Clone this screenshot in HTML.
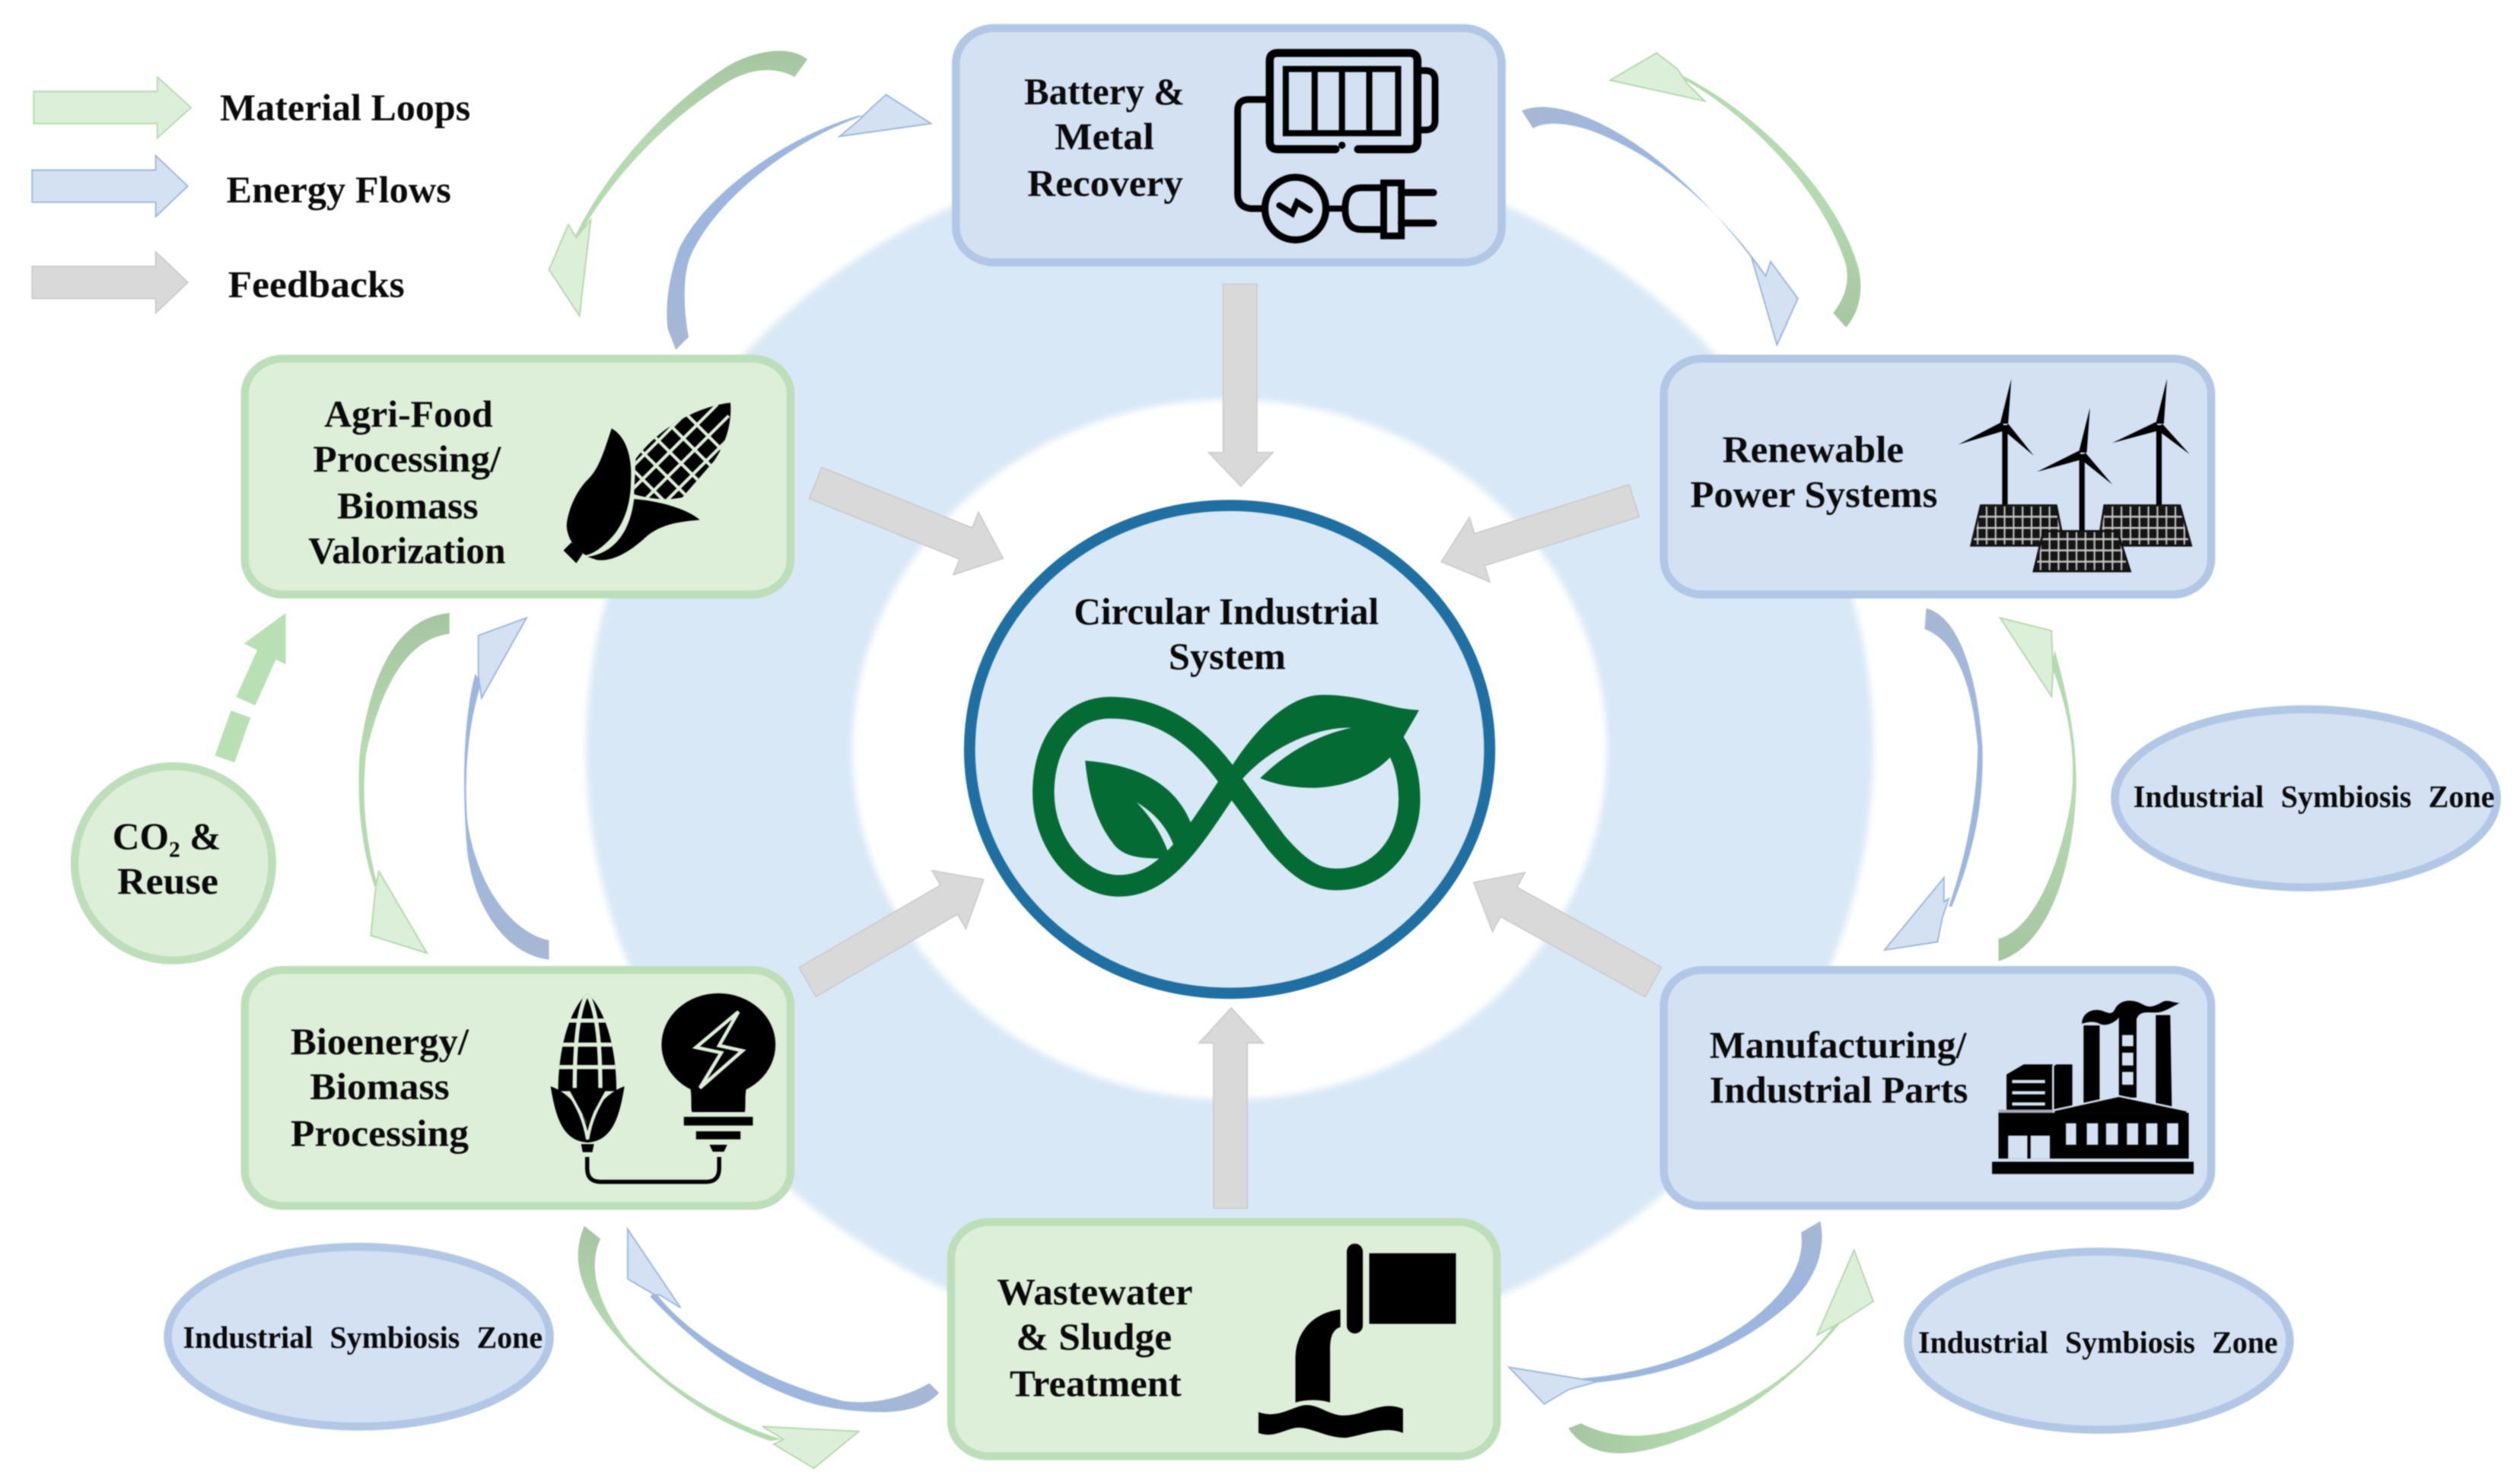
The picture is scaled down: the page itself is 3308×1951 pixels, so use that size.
<!DOCTYPE html>
<html lang="en"><head><meta charset="utf-8"><title>Circular Industrial System</title>
<style>
html,body{margin:0;padding:0;background:#fff}
svg{display:block;filter:blur(.8px)}
text{font-family:"Liberation Serif",serif;font-weight:700;fill:#0a0a0a;font-size:23.5px}
.z{font-size:19.5px;word-spacing:6px}
.gh{fill:#dcefd8;stroke:#b3d8ab;stroke-width:.9}
.bh{fill:#d3e1f3;stroke:#9db6dd;stroke-width:.9}
.fb{fill:#d9d9d9;stroke:#cbcbcb;stroke-width:.8}
.bb{fill:#d3e1f3;stroke:#b1c7e5;stroke-width:5}
.gb{fill:#deefd9;stroke:#bcdfba;stroke-width:5}
</style></head><body>
<svg width="3308" height="1951" viewBox="0 0 1568 924.8" xmlns="http://www.w3.org/2000/svg">
<defs>
<filter id="bl" x="-5%" y="-5%" width="110%" height="110%"><feGaussianBlur stdDeviation="2"/></filter>
<linearGradient id="gT" x1="0" y1="0" x2="0" y2="1"><stop offset="0" stop-color="#a5c5a0"/><stop offset=".5" stop-color="#b5dab0"/></linearGradient>
<linearGradient id="gB" x1="0" y1="1" x2="0" y2="0"><stop offset="0" stop-color="#a5c5a0"/><stop offset=".5" stop-color="#b5dab0"/></linearGradient>
<linearGradient id="gL" x1="0" y1="0" x2="1" y2="0"><stop offset="0" stop-color="#a5c5a0"/><stop offset=".5" stop-color="#b5dab0"/></linearGradient>
<linearGradient id="bT" x1="0" y1="0" x2="0" y2="1"><stop offset="0" stop-color="#a7b7d5"/><stop offset=".5" stop-color="#9cb6de"/></linearGradient>
<linearGradient id="bB" x1="0" y1="1" x2="0" y2="0"><stop offset="0" stop-color="#a7b7d5"/><stop offset=".5" stop-color="#9cb6de"/></linearGradient>
<linearGradient id="bR" x1="1" y1="0" x2="0" y2="0"><stop offset="0" stop-color="#a7b7d5"/><stop offset=".5" stop-color="#9cb6de"/></linearGradient>
<linearGradient id="bL" x1="0" y1="0" x2="1" y2="0"><stop offset="0" stop-color="#a7b7d5"/><stop offset=".5" stop-color="#9cb6de"/></linearGradient>
<pattern id="sol" patternUnits="userSpaceOnUse" width="5.6" height="7"><rect width="5.6" height="7" fill="#c8c8c8"/><rect x=".5" y=".6" width="4.6" height="5.8" fill="#151515"/></pattern>
<clipPath id="cob"><path d="M396,286 C408,270 430,254 455,251 C456,262 453,275 445,287 L425,310 C415,312 405,311 395,308 Z"/></clipPath>
<clipPath id="cob2"><path d="M365.8,619 C378,630 384,655 384,680 L347.7,680 C347.7,655 354,630 365.8,619 Z"/></clipPath>
</defs>

<rect width="1568" height="925" fill="#fff"/>
<ellipse cx="766" cy="467" rx="401" ry="375" fill="#d9e8f6" filter="url(#bl)"/>
<ellipse cx="766" cy="467" rx="235" ry="218" fill="#fff" filter="url(#bl)"/>

<!-- legend arrows -->
<polygon points="21,57 98,57 98,48 119,67 98,86 98,77 21,77" fill="#dcefd8" stroke="#b6dab0" stroke-width=".9"/>
<polygon points="20,106 97,106 97,97 117,116 97,135 97,126 20,126" fill="#d3e1f3" stroke="#9fb6dc" stroke-width=".9"/>
<polygon points="20,166 97,166 97,157 117,176 97,195 97,186 20,186" fill="#d9d9d9" stroke="#cbcbcb" stroke-width=".9"/>
<text x="137" y="75" textLength="156" lengthAdjust="spacingAndGlyphs">Material Loops</text>
<text x="141" y="126" textLength="140" lengthAdjust="spacingAndGlyphs">Energy Flows</text>
<text x="142" y="185" textLength="110" lengthAdjust="spacingAndGlyphs">Feedbacks</text>

<!-- grey feedback arrows -->
<polygon class="fb" points="762,177 783,177 783,282 793,282 773,303 753,282 762,282"/>
<polygon class="fb" points="756,753 777,753 777,650 787,650 767,628 747,650 756,650"/>
<polygon class="fb" transform="translate(508,301) rotate(21.9)" points="0,-10.5 101,-10.5 101,-21 126,0 101,21 101,10.5 0,10.5"/>
<polygon class="fb" transform="translate(1018,312) rotate(162.4)" points="0,-10.5 101,-10.5 101,-21 126,0 101,21 101,10.5 0,10.5"/>
<polygon class="fb" transform="translate(503,612) rotate(-30.2)" points="0,-10.5 102,-10.5 102,-21 127,0 102,21 102,10.5 0,10.5"/>
<polygon class="fb" transform="translate(1030,612) rotate(209)" points="0,-10.5 103,-10.5 103,-21 128,0 103,21 103,10.5 0,10.5"/>

<!-- centre -->
<ellipse cx="766" cy="467" rx="162" ry="152" fill="#d9e8f6" stroke="#1f6fa3" stroke-width="7"/>
<text x="669" y="389" textLength="190" lengthAdjust="spacingAndGlyphs">Circular Industrial</text>
<text x="728" y="417" textLength="73" lengthAdjust="spacingAndGlyphs">System</text>
<g fill="none" stroke="#046b35" stroke-width="13.5">
<path d="M767,487 C745,455 720,441 692,441 C665,441 650,465 650,494 C650,525 672,552 697,552 C725,552 742,525 767,487"/>
<path d="M767,487 L795,525 C812,545 822,548 833,548 C860,548 878,525 878,498 C878,485 875,472 868,462"/>
</g>
<path fill="#046b35" d="M767,478 C785,450 805,433 824,433 C850,433 865,442 884,442.5 C880,450 876,456 873,462 C865,478 845,490 819,491 C805,491 795,489 785,485 C800,470 820,458 842,453.5 C820,453 790,465 770,490 Z"/>
<path fill="#046b35" d="M676,474 C700,476 725,483 738,505 C742,512 745,520 744,524 L733,533 C730,520 722,508 708,500 C718,510 725,522 729,535 C712,535 700,535 693,525 C683,512 678,495 676,474 Z"/>

<!-- boxes -->
<rect class="bb" x="595.5" y="17.5" width="340" height="146" rx="24" ry="22"/>
<rect class="bb" x="1036.5" y="223.5" width="341" height="147" rx="24" ry="22"/>
<rect class="bb" x="1036.5" y="604.5" width="341" height="147" rx="24" ry="22"/>
<rect class="gb" x="592.5" y="761.5" width="340" height="146" rx="24" ry="22"/>
<rect class="gb" x="152.5" y="604.5" width="340" height="147" rx="24" ry="22"/>
<rect class="gb" x="152.5" y="223.5" width="340" height="147" rx="24" ry="22"/>

<!-- ellipses -->
<ellipse class="bb" cx="1436.5" cy="497.5" rx="119" ry="55.5"/>
<ellipse class="bb" cx="223.5" cy="833" rx="119" ry="56"/>
<ellipse class="bb" cx="1307.5" cy="835.5" rx="119" ry="55.5"/>
<ellipse class="gb" cx="108" cy="538" rx="61.5" ry="60.5"/>

<!-- box labels -->
<text x="638" y="65" textLength="100" lengthAdjust="spacingAndGlyphs">Battery &amp;</text>
<text x="657" y="93" textLength="62" lengthAdjust="spacingAndGlyphs">Metal</text>
<text x="640" y="122" textLength="97" lengthAdjust="spacingAndGlyphs">Recovery</text>
<text x="1073" y="288" textLength="113" lengthAdjust="spacingAndGlyphs">Renewable</text>
<text x="1053" y="316" textLength="154" lengthAdjust="spacingAndGlyphs">Power Systems</text>
<text x="202" y="266" textLength="105" lengthAdjust="spacingAndGlyphs">Agri-Food</text>
<text x="195" y="294" textLength="117" lengthAdjust="spacingAndGlyphs">Processing/</text>
<text x="210" y="323" textLength="88" lengthAdjust="spacingAndGlyphs">Biomass</text>
<text x="192" y="351" textLength="123" lengthAdjust="spacingAndGlyphs">Valorization</text>
<text x="181" y="657" textLength="111" lengthAdjust="spacingAndGlyphs">Bioenergy/</text>
<text x="193" y="685" textLength="87" lengthAdjust="spacingAndGlyphs">Biomass</text>
<text x="181" y="714" textLength="111" lengthAdjust="spacingAndGlyphs">Processing</text>
<text x="1065" y="659" textLength="160" lengthAdjust="spacingAndGlyphs">Manufacturing/</text>
<text x="1065" y="687" textLength="161" lengthAdjust="spacingAndGlyphs">Industrial Parts</text>
<text x="621" y="813" textLength="122" lengthAdjust="spacingAndGlyphs">Wastewater</text>
<text x="633" y="841" textLength="97" lengthAdjust="spacingAndGlyphs">&amp; Sludge</text>
<text x="629" y="870" textLength="107" lengthAdjust="spacingAndGlyphs">Treatment</text>
<text class="z" x="1329" y="503" textLength="225" lengthAdjust="spacingAndGlyphs">Industrial Symbiosis Zone</text>
<text class="z" x="114" y="840" textLength="224" lengthAdjust="spacingAndGlyphs">Industrial Symbiosis Zone</text>
<text class="z" x="1195" y="843" textLength="224" lengthAdjust="spacingAndGlyphs">Industrial Symbiosis Zone</text>
<text x="70" y="529">CO<tspan font-size="14" dy="5">2</tspan><tspan dy="-5"> &amp;</tspan></text>
<text x="73" y="557" textLength="63" lengthAdjust="spacingAndGlyphs">Reuse</text>

<!-- CO2 dashed arrow -->
<g stroke="#b9dfb5" stroke-width="13" fill="none"><line x1="167" y1="406" x2="153" y2="437"/><line x1="150" y1="445" x2="140" y2="473"/></g>
<polygon points="178,382 152,401 178,414" fill="#b9dfb5"/>

<!-- curved arrows -->
<path fill="url(#gT)" d="M503,37 C492,28 470,31 452,42 C412,68 375,110 356,152 L359,150 C378,115 412,76 455,50 C470,42 484,42 495,48 Z"/>
<polygon class="gh" points="368,137 361,197 342,168 354,140 359,148"/>
<path fill="url(#bB)" d="M421,218 L429,210 C426,195 425,172 430,160 C445,125 492,88 538,72 L535,72 C490,85 440,120 423,155 C417,172 414,190 416,205 Z"/>
<polygon class="bh" points="552,59 580,77 523,85 535,75 542,68"/>
<path fill="url(#bL)" d="M948,69 C965,62 990,72 1010,84 C1050,108 1085,150 1103,178 L1097,167 C1070,130 1035,100 1000,85 C985,78 965,74 955,80 Z"/>
<polygon class="bh" points="1091,160 1100,172 1103,163 1120,186 1107,215"/>
<path fill="url(#gB)" d="M1046,46 C1095,70 1145,120 1158,168 C1161,182 1158,195 1150,204 L1142,195 C1150,185 1152,175 1150,165 C1135,118 1090,72 1048,49 Z"/>
<polygon class="gh" points="1032,33 1003,50 1062,63 1051,52 1045,43"/>
<path fill="url(#bT)" d="M1200,379 C1222,385 1232,425 1235,465 C1236,500 1230,530 1216,565 L1214,565 C1226,530 1232,495 1232,465 C1229,430 1220,400 1199,392 Z"/>
<polygon class="bh" points="1211,547 1174,592 1207,587 1210,572 1214,560 1211,562"/>
<path fill="url(#gB)" d="M1280,405 C1290,440 1295,470 1293,500 C1290,545 1275,590 1245,599 L1245,585 C1265,580 1282,545 1290,500 C1294,470 1288,440 1278,415 Z"/>
<polygon class="gh" points="1246,385 1278,393 1279,419 1278,434"/>
<path fill="url(#gT)" d="M280,382 L280,395 C255,398 238,425 228,470 C225,500 228,525 236,555 L233,552 C226,530 222,505 224,470 C230,425 245,385 280,382 Z"/>
<polygon class="gh" points="236,543 266,594 231,583 234,553"/>
<path fill="url(#bB)" d="M300,425 C292,450 289,480 291,510 C295,545 315,580 342,586 L342,598 C315,595 295,565 291,530 C288,495 288,450 296,420 Z"/>
<polygon class="bh" points="328,385 298,396 298,421 300,435"/>
<path fill="url(#gT)" d="M364,764 L374,772 C366,790 372,813 392,838 C418,866 450,885 487,897 L480,898 C440,885 405,858 380,828 C362,805 355,785 364,764 Z"/>
<polygon class="gh" points="475,889 535,892 507,915 482,900 488,897"/>
<path fill="url(#bR)" d="M408,805 C430,835 480,862 525,873 C545,876 565,870 579,862 L585,868 C578,876 565,880 550,880 C530,880 510,877 495,871 C460,858 430,835 405,808 Z"/>
<polygon class="bh" points="391,766 391,797 408,807 411,807 424,815"/>
<path fill="url(#bT)" d="M1134,761 C1138,780 1130,800 1112,815 C1080,842 1040,858 990,862 L985,859 C1035,855 1078,838 1105,810 C1118,797 1124,782 1122,768 Z"/>
<polygon class="bh" points="940,852 995,861 977,866 962,875"/>
<path fill="url(#gL)" d="M977,890 L985,887 C1000,895 1020,897 1040,892 C1085,880 1125,853 1145,822 L1150,820 C1125,852 1090,882 1045,898 C1020,907 992,912 977,890 Z"/>
<polygon class="gh" points="1155,779 1167,811 1150,822 1145,825 1132,832"/>

<!-- battery icon -->
<g fill="none" stroke="#000" stroke-linecap="round">
<path stroke-width="5" d="M832,93 L796,93 Q791,93 791,88 L791,38 Q791,33 796,33 L878,33 Q883,33 883,38 L883,88 Q883,93 878,93 L846,93"/>
<rect x="801" y="43" width="70" height="40" stroke-width="3.8"/>
<path stroke-width="3.8" d="M819,43 V83 M836,43 V83 M853,43 V83"/>
<path stroke-width="4.2" d="M884,44 H888 Q894,44 894,50 V75 Q894,81 888,81 H884"/>
<path stroke-width="4.2" d="M791,62 H778 Q771,62 771,69 V121 Q771,129 779,130 H788"/>
<ellipse cx="807" cy="130" rx="19" ry="19.5" stroke-width="4.4"/>
<path stroke-width="3.8" d="M797,128 L805,133 L808,126 L816,131"/>
<path stroke-width="3.8" d="M826,130 H838"/>
<path stroke-width="4.2" d="M862,117 H848 Q838,117 838,130 Q838,143 848,143 H862"/>
<rect x="862" y="114" width="11" height="33" stroke-width="4.2"/>
<path stroke-width="4.4" d="M873,120 H893 M873,139 H893"/>
</g>
<circle cx="836" cy="90.5" r="2.2" fill="#000"/>

<!-- turbines -->
<g fill="#000" stroke="#000">
<path stroke-width="3.4" d="M1249,265 V316 M1297,283 V332 M1345,265 V316"/>
<g stroke="none">
<path d="M1253,236 L1251,264 L1246,264 Z M1220,277 L1247,263 L1250,268 Z M1267,284 L1248,268 L1251,264 Z"/>
<path d="M1302,254 L1300,282 L1295,282 Z M1269,294 L1295,281 L1298,286 Z M1316,302 L1296,286 L1299,282 Z"/>
<path d="M1350,236 L1348,264 L1343,264 Z M1316,276 L1343,263 L1346,268 Z M1364,283 L1344,268 L1347,264 Z"/>
</g>
</g>
<g stroke="#111" stroke-width="1.3" fill="url(#sol)">
<polygon points="1234,315 1281,315 1286,340 1228,340"/>
<polygon points="1311,315 1358,315 1365,340 1307,340"/>
<polygon points="1273,331 1319,331 1327,356 1267,356"/>
</g>

<!-- agri corn -->
<path fill="#000" d="M396,286 C408,270 430,254 455,251 C456,262 453,275 445,287 L425,310 C415,312 405,311 395,308 Z"/>
<g clip-path="url(#cob)" stroke="#deefd9" stroke-width="2" transform="translate(0,0)">
<g transform="translate(425,281) rotate(-45)">
<path d="M-60,-15 H36 M-60,-5 H36 M-60,5 H36 M-60,15 H36"/>
<path d="M-30,-30 V30 M-18,-30 V30 M-6,-30 V30 M6,-30 V30 M18,-30 V30"/>
</g>
</g>
<path fill="#000" d="M381,267 C390,272 394,285 393,300 C393,315 388,328 380,336 C375,341 370,345 365,346 C358,342 353,335 353,327 C354,318 358,308 365,300 C373,293 376,282 381,267 Z"/>
<path fill="#000" d="M395,311 C410,312 428,317 436,324 C425,325 412,326 402,335 C392,344 382,350 372,349 L366,347 C380,345 392,335 395,311 Z"/>
<polygon fill="#000" points="351,343 359,351 363,345 356,338"/>

<!-- bio icon -->
<path fill="#000" d="M365.8,619 C378,630 384,655 384,680 L347.7,680 C347.7,655 354,630 365.8,619 Z"/>
<g clip-path="url(#cob2)" stroke="#deefd9" stroke-width="2.6" fill="none">
<path d="M340,636 H392 M340,651 H392 M340,665 H392"/>
<path d="M365.8,619 C360,630 358,650 358,680 M365.8,619 C372,630 374,650 374,680"/>
</g>
<path fill="#000" d="M343,677 C352,680 360,688 365.8,700 C372,688 380,680 389,677 C386,695 382,711 366,712 C350,711 346,695 343,677 Z"/>
<path fill="none" stroke="#deefd9" stroke-width="2" d="M355,682 C360,690 364,698 366,710 C368,698 372,690 377,682"/>
<path fill="#000" d="M354,678 H378 L366,700 Z"/>
<path fill="#000" d="M362,713 H370 L369,718 H363 Z"/>
<ellipse cx="447.6" cy="651" rx="35.5" ry="32" fill="#000"/>
<path fill="#000" d="M428,672 C432,680 430,688 431,693 H464 C465,688 463,680 467,672 Z"/>
<rect x="426" y="696" width="43" height="5.4" fill="#000"/>
<rect x="433.6" y="705" width="27.7" height="5" fill="#000"/>
<polygon points="442,713.4 453,713.4 451,717.7 444,717.7" fill="#000"/>
<polygon points="460,630.5 433.6,652.7 449.3,656 436,678 462.5,654.8 448,651.6" fill="#000" stroke="#deefd9" stroke-width="2.2"/>
<path fill="none" stroke="#000" stroke-width="2.6" d="M365.8,721 V728 Q365.8,736.5 374,736.5 H440 Q448,736.5 448,728 V721"/>

<!-- factory -->
<g fill="#000">
<rect x="1241" y="724" width="125.6" height="7.6"/>
<rect x="1245" y="693.5" width="118.5" height="28.5"/>
<polygon points="1280,693.5 1280,691.5 1320,683.4 1362,691.5 1362,693.5"/>
<polygon points="1250,669.6 1260.7,663.3 1291,663.3 1291,691.8 1250,691.8"/>
<polygon points="1298,639 1308,639 1308,687 1298,689"/>
<polygon points="1320,634 1331,634 1331,684 1320,684"/>
<polygon points="1343,632.6 1352,632.6 1353,691 1343,689"/>
<path d="M1297,638 C1297,631 1304,628 1310,630 C1315,632 1316,632 1318,628 C1322,622 1330,623 1335,626 C1340,629 1344,626 1348,624 C1351,623 1354,625 1358,625 C1352,628 1348,631 1343,631 C1337,631 1333,630 1331,635 L1320,634 C1318,637 1312,640 1308,638 C1304,636 1300,637 1297,638 Z"/>
</g>
<g fill="#d3e1f3">
<rect x="1322" y="645" width="7" height="7"/><rect x="1322" y="656" width="7" height="8"/><rect x="1322" y="668" width="7" height="8"/>
<rect x="1287" y="700" width="6.4" height="13.4"/><rect x="1300" y="700" width="7" height="13.4"/><rect x="1312" y="700" width="7.4" height="13.4"/><rect x="1325" y="700" width="7" height="13.4"/><rect x="1337" y="700" width="7" height="13.4"/><rect x="1350" y="700" width="7" height="13.4"/>
<rect x="1251" y="707.7" width="12" height="14.3"/><rect x="1265" y="707.7" width="12" height="14.3"/>
<rect x="1253.5" y="673" width="20.5" height="2"/><rect x="1253.5" y="680" width="20.5" height="2"/><rect x="1253.5" y="687" width="20.5" height="2"/>
</g>
<path fill="none" stroke="#d3e1f3" stroke-width="1.2" d="M1279,692 L1320,683 L1362,692 M1279,692 V664 M1279,664 L1291,656"/>
<rect x="1245" y="691.5" width="34" height="2" fill="#aab"/>

<!-- wastewater -->
<g fill="#000">
<rect x="839" y="775" width="10" height="56" rx="5"/>
<rect x="853" y="781" width="54" height="44"/>
<path d="M835,816 V827 C829,829 828.6,836 828.6,841 V874 C822,872 814,872 807,874 V847 C807,830 818,818 835,816 Z"/>
<path d="M784,880 C795,884 803,878 811,876 C820,874 826,881 835,882 C850,883 860,872 874,878 V893 C862,888 848,895 838,896 C825,896 815,888 806,890 C798,892 792,896 784,893 Z"/>
</g>
</svg>
</body></html>
